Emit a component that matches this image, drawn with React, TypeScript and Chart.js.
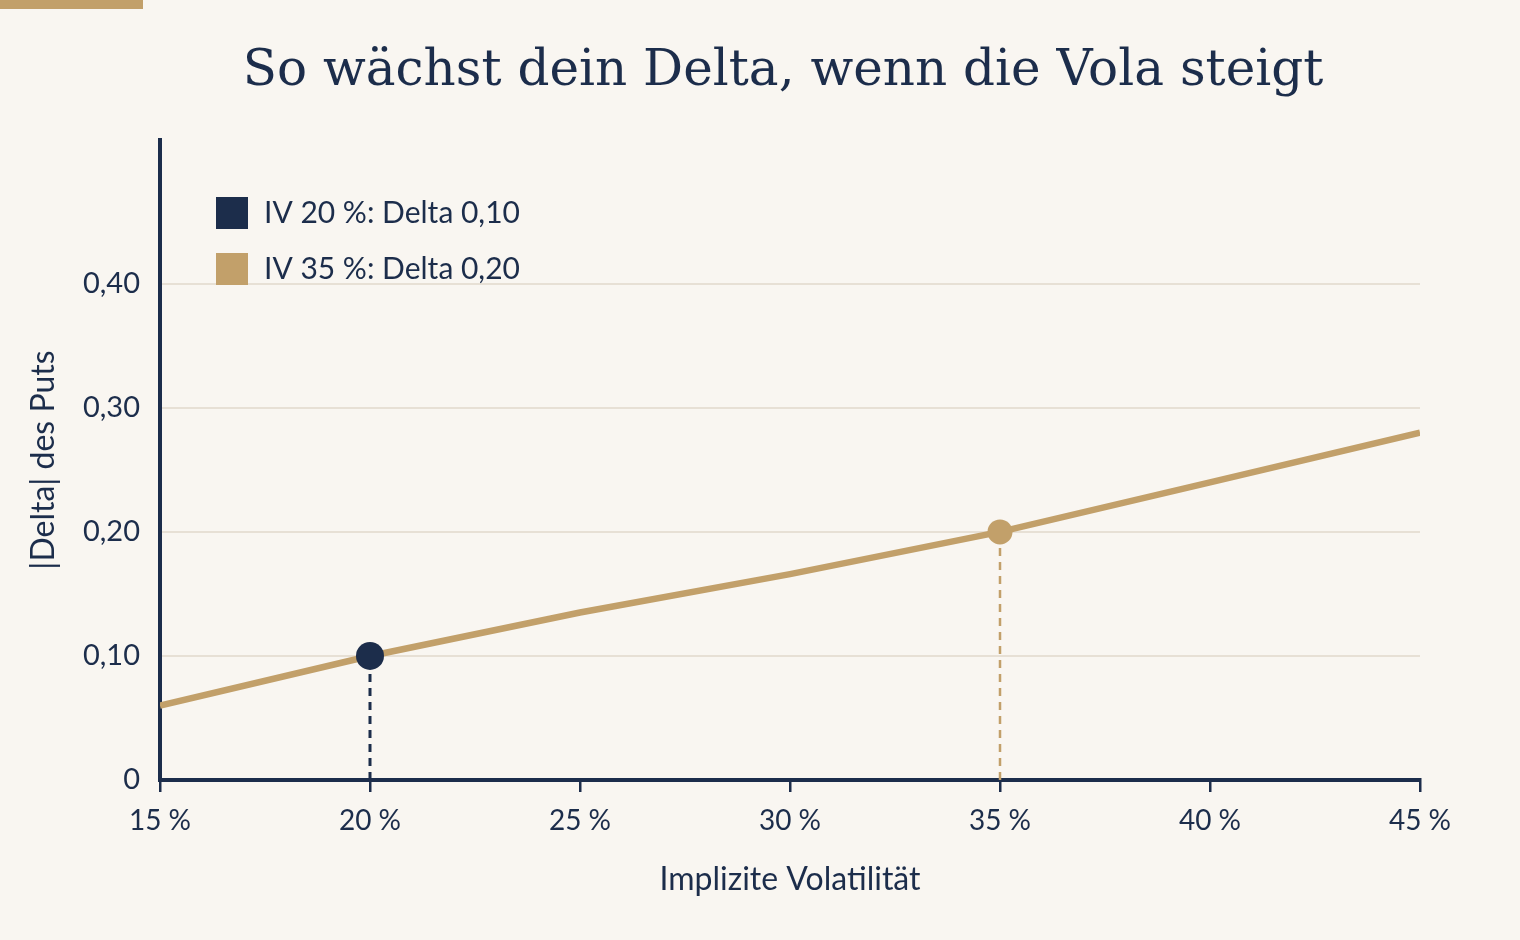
import { useEffect, useRef } from 'react';
import { Chart, registerables } from 'chart.js';

Chart.register(...registerables);

// Werte
const ivLevels = [15, 20, 25, 30, 35, 40, 45];
const putDelta = [0.06, 0.1, 0.135, 0.166, 0.2, 0.24, 0.28];
const markerIv = [20, 35];
const markerDelta = [0.1, 0.2];
const markerLabels = ['IV 20 %: Delta 0,10', 'IV 35 %: Delta 0,20'];
const yTicks = [0, 0.1, 0.2, 0.3, 0.4];

const NAVY = '#1c2d4b';
const TAN = '#c2a06a';
const GRID = '#e7e0d5';
const BG = '#f9f6f1';
const markerColors = [NAVY, TAN];
const markerRadius = [14, 12.5];

const decor = {
  id: 'decor',
  beforeDraw(chart: Chart) {
    const { ctx, width, height } = chart;
    ctx.save();
    ctx.fillStyle = BG;
    ctx.fillRect(0, 0, width, height);
    ctx.fillStyle = TAN;
    ctx.fillRect(0, 0, 143, 9);
    ctx.fillStyle = NAVY;
    ctx.font = '50px "DejaVu Serif"';
    ctx.textAlign = 'center';
    ctx.textBaseline = 'alphabetic';
    ctx.fillText('So wächst dein Delta, wenn die Vola steigt', 783, 85);
    ctx.restore();
  },
  afterDraw(chart: Chart) {
    const { ctx, chartArea } = chart;
    ctx.save();
    ctx.font = '30px Lato';
    ctx.textAlign = 'left';
    ctx.textBaseline = 'middle';
    markerLabels.forEach((label, i) => {
      const x = chartArea.left + 56;
      const y = chartArea.top + 57 + i * 56;
      ctx.fillStyle = markerColors[i];
      ctx.fillRect(x, y, 32, 32);
      ctx.fillStyle = NAVY;
      ctx.fillText(label, x + 48, y + 16);
    });
    ctx.restore();
  },
};

export default function DeltaChart() {
  const chartRef = useRef<HTMLCanvasElement>(null);

  useEffect(() => {
    document.body.style.margin = '0';
    document.body.style.background = BG;
    if (!chartRef.current) return;

    Chart.defaults.font.family = 'Lato';
    Chart.defaults.color = NAVY;

    const dropLines = markerIv.map((iv, i) => ({
      type: 'line' as const,
      data: [
        { x: iv, y: 0 },
        { x: iv, y: markerDelta[i] },
      ],
      borderColor: markerColors[i],
      borderWidth: i === 0 ? 3 : 2.5,
      borderDash: [8, 6],
      pointRadius: 0,
      order: 3,
    }));

    const markers = markerIv.map((iv, i) => ({
      type: 'line' as const,
      data: [{ x: iv, y: markerDelta[i] }],
      showLine: false,
      pointRadius: markerRadius[i],
      pointBackgroundColor: markerColors[i],
      pointBorderWidth: 0,
      order: 0,
    }));

    const myChart = new Chart(chartRef.current, {
      type: 'line',
      data: {
        datasets: [
          ...dropLines,
          {
            data: ivLevels.map((iv, i) => ({ x: iv, y: putDelta[i] })),
            borderColor: TAN,
            borderWidth: 6.5,
            pointRadius: 0,
            tension: 0,
            order: 2,
          },
          ...markers,
        ],
      },
      options: {
        responsive: false,
        animation: false,
        devicePixelRatio: 1,
        layout: { padding: { top: 140, right: 100, left: 0, bottom: 0 } },
        plugins: {
          legend: { display: false },
          title: { display: false },
          tooltip: { enabled: false },
        },
        scales: {
          x: {
            type: 'linear',
            min: 15,
            max: 45,
            afterFit: (scale) => {
              scale.height = 160;
            },
            ticks: {
              stepSize: 5,
              padding: 12,
              font: { size: 28 },
              color: NAVY,
              callback: (v) => `${v} %`,
            },
            grid: {
              drawOnChartArea: false,
              drawTicks: true,
              tickLength: 12,
              color: NAVY,
              lineWidth: 2.5,
            },
            border: { display: true, color: NAVY, width: 4 },
            title: {
              display: true,
              text: 'Implizite Volatilität',
              font: { size: 32 },
              color: NAVY,
              padding: { top: 0, bottom: 41 },
            },
          },
          y: {
            min: 0,
            max: 0.516,
            afterFit: (scale) => {
              scale.width = 160;
            },
            afterBuildTicks: (scale) => {
              scale.ticks = yTicks.map((value) => ({ value }));
            },
            ticks: {
              padding: 20,
              font: { size: 29 },
              color: NAVY,
              callback: (v) => (Number(v) === 0 ? '0' : Number(v).toFixed(2).replace('.', ',')),
            },
            grid: { drawTicks: false, color: GRID, lineWidth: 2 },
            border: { display: true, color: NAVY, width: 4 },
            title: {
              display: true,
              text: '|Delta| des Puts',
              font: { size: 32 },
              color: NAVY,
              padding: { top: 24, bottom: 0 },
            },
          },
        },
      },
      plugins: [decor],
    });

    return () => {
      myChart.destroy();
    };
  }, []);

  return (
    <div style={{ width: 1520, height: 940, background: BG }}>
      <canvas ref={chartRef} width={1520} height={940} style={{ width: 1520, height: 940, display: 'block' }} />
    </div>
  );
}
